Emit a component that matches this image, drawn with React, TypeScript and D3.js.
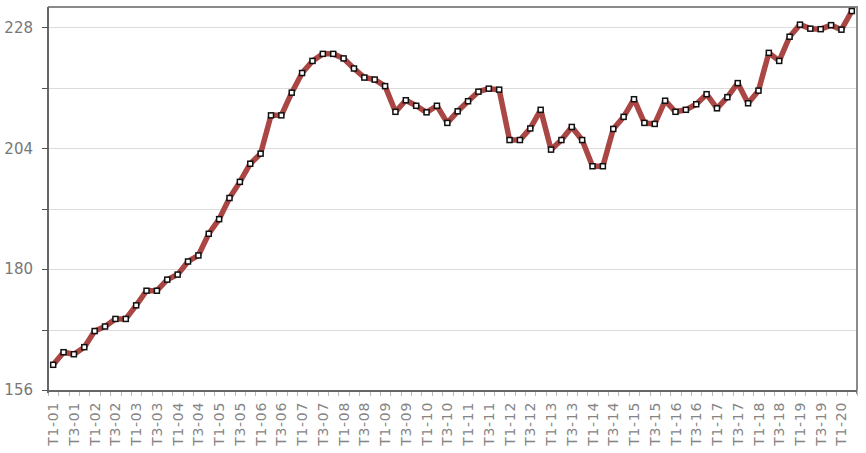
import React, { useRef, useEffect } from 'react';
import { select, scaleBand, scaleLinear, line, range } from 'd3';

// quarterly values, T1-01 .. T2-20
const years: string[] = ['01', '02', '03', '04', '05', '06', '07', '08', '09', '10',
  '11', '12', '13', '14', '15', '16', '17', '18', '19', '20'];
const quarters: string[] = ['T1', 'T2', 'T3', 'T4'];

const values: number[] = [
  161.0, 163.5, 163.1, 164.5, 167.7, 168.6, 170.1, 170.1, 172.8, 175.7,
  175.7, 177.9, 178.9, 181.5, 182.7, 187.0, 189.9, 194.1, 197.3, 200.9,
  202.9, 210.5, 210.5, 215.0, 218.9, 221.3, 222.7, 222.7, 221.8, 219.8,
  218.0, 217.6, 216.3, 211.2, 213.5, 212.4, 211.1, 212.4, 209.0, 211.3,
  213.3, 215.2, 215.8, 215.6, 205.6, 205.6, 207.9, 211.6, 203.7, 205.6,
  208.2, 205.6, 200.4, 200.4, 207.8, 210.2, 213.7, 209.0, 208.8, 213.4,
  211.2, 211.6, 212.7, 214.7, 211.9, 214.1, 216.9, 212.9, 215.4, 222.9,
  221.3, 226.1, 228.5, 227.7, 227.6, 228.4, 227.5, 231.2,
];

const yTicks: number[] = [156, 168, 180, 192, 204, 216, 228];
const yLabels: number[] = [156, 180, 204, 228];

const categories: string[] = years
  .flatMap(y => quarters.map(q => q + '-' + y))
  .slice(0, values.length);

export default function App() {
  const svgRef = useRef<SVGSVGElement>(null);

  let width = 866;
  let height = 453;
  let margin = { top: 7, right: 9, bottom: 63, left: 48 };
  let innerWidth = width - margin.left - margin.right;
  let innerHeight = height - margin.top - margin.bottom;

  useEffect(() => {
    const svg = select(svgRef.current);
    svg.selectAll('*').remove();

    let xScale = scaleBand().domain(categories).range([0, innerWidth]);
    let yScale = scaleLinear().domain([156, 232]).range([innerHeight, 0]);
    let bw = xScale.bandwidth();

    const bounds = svg
      .append('g')
      .attr('transform', 'translate(' + margin.left + ',' + margin.top + ')');

    // grid
    bounds
      .append('g')
      .selectAll('line')
      .data(yTicks.slice(1))
      .join('line')
      .attr('x1', 0)
      .attr('x2', innerWidth)
      .attr('y1', d => Math.round(yScale(d)) + 0.5)
      .attr('y2', d => Math.round(yScale(d)) + 0.5)
      .attr('stroke', '#dcdcdc');

    // plot border (top / right)
    bounds
      .append('path')
      .attr('d', `M0,0H${innerWidth}V${innerHeight + 4}`)
      .attr('fill', 'none')
      .attr('stroke', '#8a8a8a')
      .attr('stroke-width', 2);

    // x ticks at band edges
    bounds
      .append('g')
      .selectAll('line')
      .data(range(categories.length + 1))
      .join('line')
      .attr('x1', i => Math.round(i * bw) + 0.5)
      .attr('x2', i => Math.round(i * bw) + 0.5)
      .attr('y1', innerHeight)
      .attr('y2', innerHeight + 6)
      .attr('stroke', '#bbb');

    // axes
    bounds
      .append('line')
      .attr('x1', 0)
      .attr('x2', innerWidth)
      .attr('y1', innerHeight + 1)
      .attr('y2', innerHeight + 1)
      .attr('stroke', '#666')
      .attr('stroke-width', 2);
    bounds
      .append('line')
      .attr('x1', 0)
      .attr('x2', 0)
      .attr('y1', 0)
      .attr('y2', innerHeight + 3)
      .attr('stroke', '#666')
      .attr('stroke-width', 2);

    // y ticks and labels
    bounds
      .append('g')
      .selectAll('line')
      .data(yTicks)
      .join('line')
      .attr('x1', -6)
      .attr('x2', 0)
      .attr('y1', d => Math.round(yScale(d)) + 0.5)
      .attr('y2', d => Math.round(yScale(d)) + 0.5)
      .attr('stroke', '#555');

    bounds
      .append('g')
      .selectAll('text')
      .data(yLabels)
      .join('text')
      .attr('x', -15)
      .attr('y', d => yScale(d))
      .attr('dy', '0.36em')
      .attr('text-anchor', 'end')
      .attr('font-family', 'DejaVu Sans, Verdana, sans-serif')
      .attr('font-size', 15)
      .attr('fill', '#777')
      .text(d => d);

    // x labels, every other quarter
    bounds
      .append('g')
      .selectAll('text')
      .data(categories.filter((_, i) => i % 2 === 0))
      .join('text')
      .attr('transform', d => `translate(${xScale(d)! + bw / 2},${innerHeight + 12}) rotate(-90)`)
      .attr('dy', '0.36em')
      .attr('text-anchor', 'end')
      .attr('font-family', 'DejaVu Sans, Verdana, sans-serif')
      .attr('font-size', 14)
      .attr('letter-spacing', 0.7)
      .attr('fill', '#858585')
      .text(d => d);

    // series
    let lineGenerator = line<number>()
      .x((_, i) => xScale(categories[i])! + bw / 2)
      .y(d => yScale(d));

    bounds
      .append('path')
      .attr('d', lineGenerator(values))
      .attr('fill', 'none')
      .attr('stroke', '#AA4643')
      .attr('stroke-width', 5.5)
      .attr('stroke-linejoin', 'round');

    bounds
      .append('g')
      .selectAll('rect')
      .data(values)
      .join('rect')
      .attr('x', (_, i) => xScale(categories[i])! + bw / 2 - 2.5)
      .attr('y', d => yScale(d) - 2.5)
      .attr('width', 5)
      .attr('height', 5)
      .attr('fill', 'white')
      .attr('stroke', '#111')
      .attr('stroke-width', 1.5);
  }, []);

  return (
    <svg
      ref={svgRef}
      width={width}
      height={height}
      style={{ position: 'absolute', left: 0, top: 0, background: 'white' }}
    />
  );
}
